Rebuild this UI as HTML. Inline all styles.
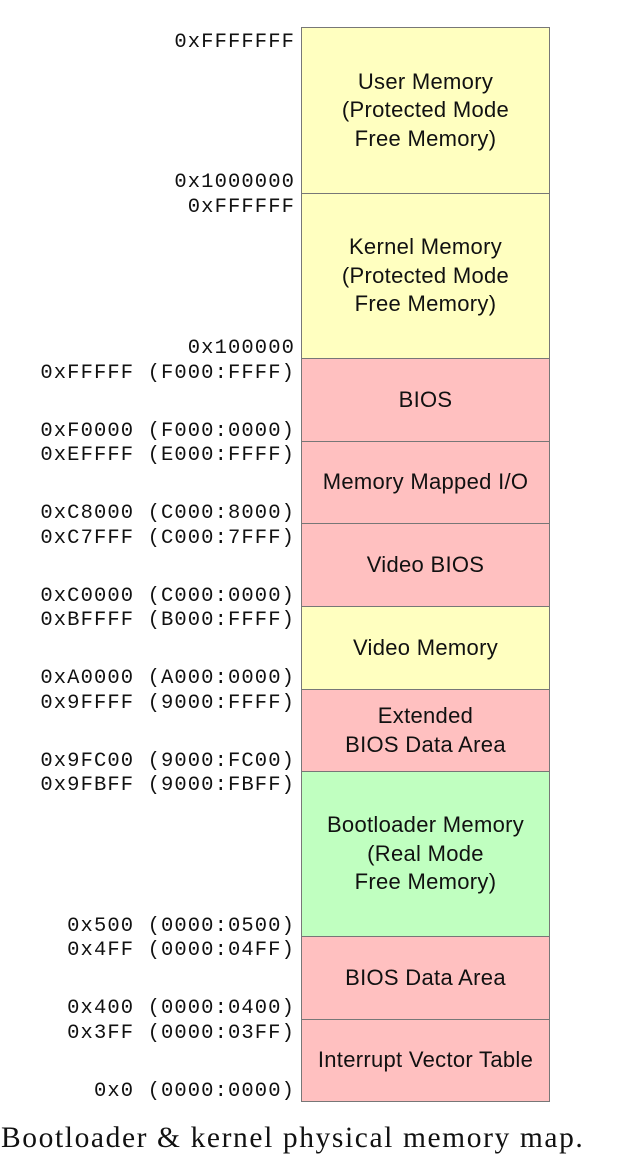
<!DOCTYPE html>
<html><head><meta charset="utf-8"><style>
body{margin:0;width:618px;height:1162px;background:#fff;position:relative;overflow:hidden}
.b{position:absolute;left:301px;width:247px;border:1px solid #777;box-sizing:content-box;display:flex;align-items:center;justify-content:center;text-align:center;font-family:"Liberation Sans",sans-serif;font-size:22px;letter-spacing:0.3px;line-height:28.5px;color:#111}
.y{background:#ffffc0}.p{background:#ffc0c0}.g{background:#c0ffc0}
.l{position:absolute;right:323px;font-family:"Liberation Mono",monospace;font-size:20.5px;letter-spacing:1.1px;line-height:22px;color:#111;white-space:pre}
.cap{position:absolute;left:1px;top:1122px;font-family:"Liberation Serif",serif;font-size:29.5px;letter-spacing:1.6px;color:#111;white-space:nowrap}
</style></head><body>
<div class="b y" style="top:27px;height:165px">User Memory<br>(Protected Mode<br>Free Memory)</div>
<div class="b y" style="top:193px;height:164px">Kernel Memory<br>(Protected Mode<br>Free Memory)</div>
<div class="b p" style="top:358px;height:82px">BIOS</div>
<div class="b p" style="top:441px;height:81px">Memory Mapped I/O</div>
<div class="b p" style="top:523px;height:82px">Video BIOS</div>
<div class="b y" style="top:606px;height:82px">Video Memory</div>
<div class="b p" style="top:689px;height:81px">Extended<br>BIOS Data Area</div>
<div class="b g" style="top:771px;height:164px">Bootloader Memory<br>(Real Mode<br>Free Memory)</div>
<div class="b p" style="top:936px;height:82px">BIOS Data Area</div>
<div class="b p" style="top:1019px;height:81px">Interrupt Vector Table</div>

<div class="l" style="top:32px">0xFFFFFFF</div>
<div class="l" style="top:172px">0x1000000</div>
<div class="l" style="top:197px">0xFFFFFF</div>
<div class="l" style="top:338px">0x100000</div>
<div class="l" style="top:363px">0xFFFFF (F000:FFFF)</div>
<div class="l" style="top:421px">0xF0000 (F000:0000)</div>
<div class="l" style="top:445px">0xEFFFF (E000:FFFF)</div>
<div class="l" style="top:503px">0xC8000 (C000:8000)</div>
<div class="l" style="top:528px">0xC7FFF (C000:7FFF)</div>
<div class="l" style="top:586px">0xC0000 (C000:0000)</div>
<div class="l" style="top:610px">0xBFFFF (B000:FFFF)</div>
<div class="l" style="top:668px">0xA0000 (A000:0000)</div>
<div class="l" style="top:693px">0x9FFFF (9000:FFFF)</div>
<div class="l" style="top:751px">0x9FC00 (9000:FC00)</div>
<div class="l" style="top:775px">0x9FBFF (9000:FBFF)</div>
<div class="l" style="top:916px">0x500 (0000:0500)</div>
<div class="l" style="top:940px">0x4FF (0000:04FF)</div>
<div class="l" style="top:998px">0x400 (0000:0400)</div>
<div class="l" style="top:1023px">0x3FF (0000:03FF)</div>
<div class="l" style="top:1081px">0x0 (0000:0000)</div>

<div class="cap">Bootloader &amp; kernel physical memory map.</div>
</body></html>
